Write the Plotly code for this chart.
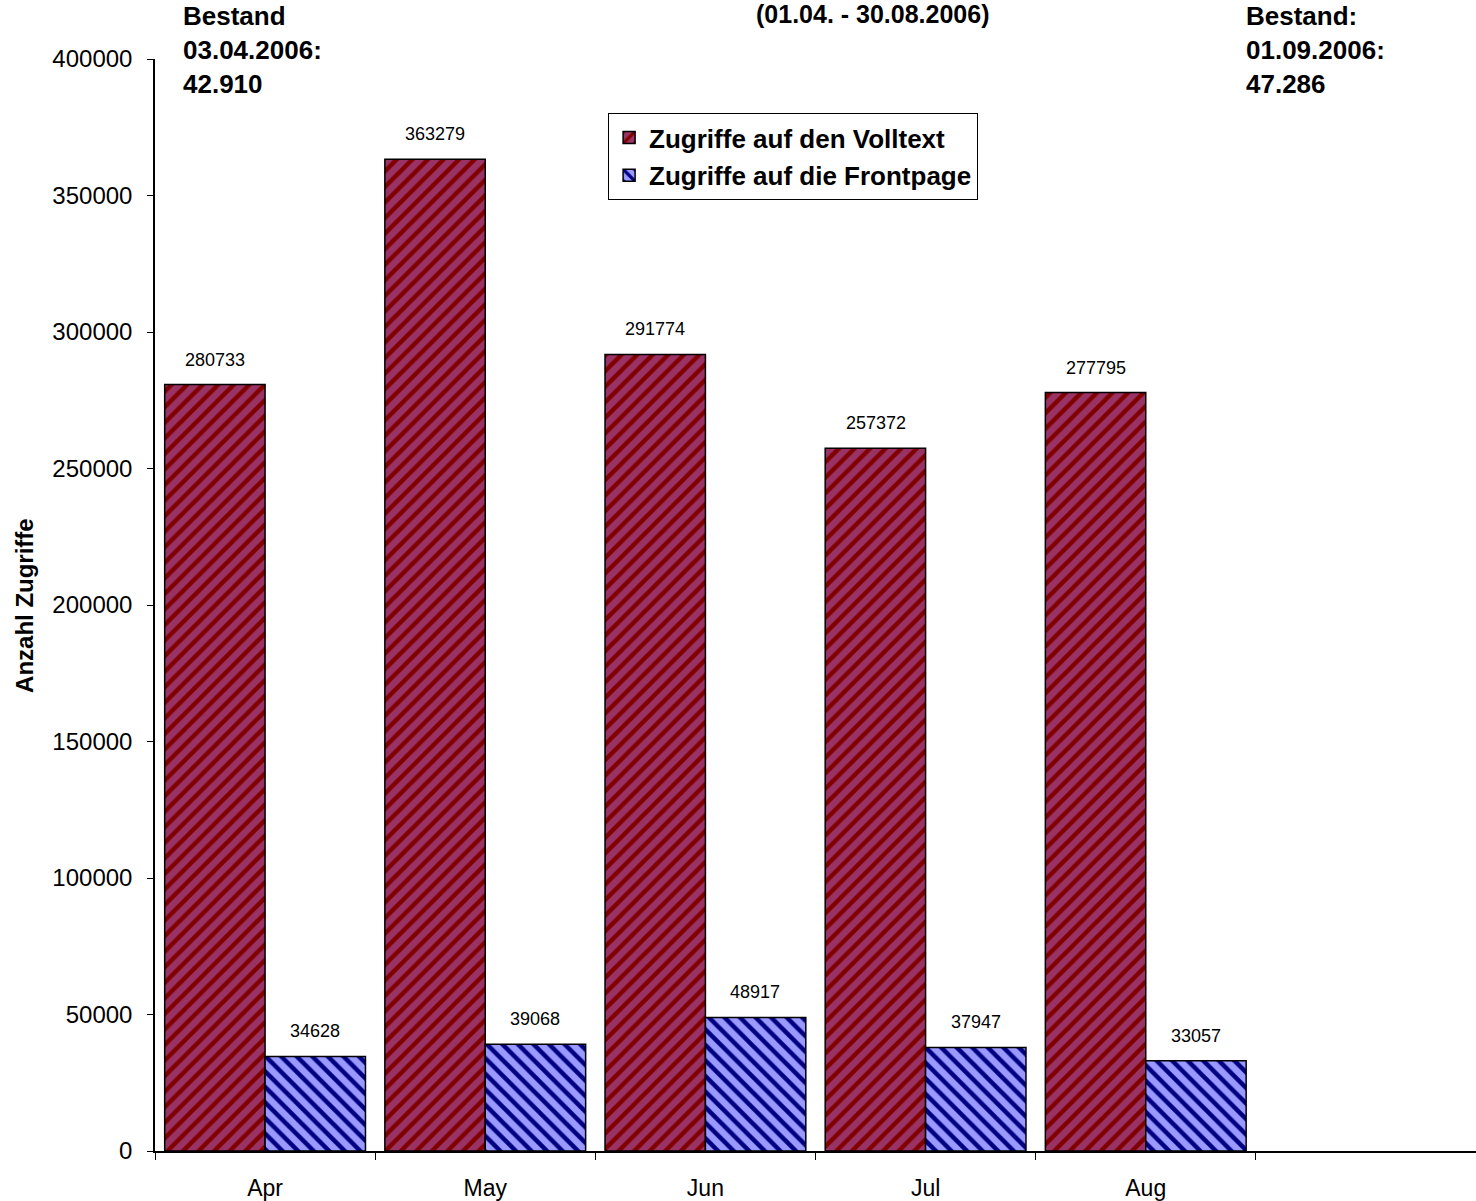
import plotly.graph_objects as go

months = ["Apr", "May", "Jun", "Jul", "Aug"]
extra_category = [" "]
volltext = [280733, 363279, 291774, 257372, 277795]
frontpage = [34628, 39068, 48917, 37947, 33057]
series_names = ["Zugriffe auf den Volltext", "Zugriffe auf die Frontpage"]
y_ticks = [0, 50000, 100000, 150000, 200000, 250000, 300000, 350000, 400000]

FONT = "Liberation Sans, Arial, sans-serif"

fig = go.Figure()
fig.add_trace(go.Bar(
    x=months, y=volltext, name=series_names[0], legendgroup="a",
    marker=dict(color="#993366", line=dict(color="black", width=1.5),
                pattern=dict(shape="/", bgcolor="#993366", fgcolor="#800000",
                             size=11, solidity=0.4, fillmode="replace")),
))
fig.add_trace(go.Bar(
    x=months, y=frontpage, name=series_names[1], legendgroup="b",
    marker=dict(color="#9999FF", line=dict(color="black", width=1.5),
                pattern=dict(shape="\\", bgcolor="#9999FF", fgcolor="#000080",
                             size=11, solidity=0.4, fillmode="replace")),
))

annotations = []
for m, v in zip(months, volltext):
    annotations.append(dict(x=m, y=v, xref="x", yref="y", text=str(v), showarrow=False,
                            xshift=-50, yshift=25, yanchor="middle",
                            font=dict(family=FONT, size=18, color="black")))
for m, v in zip(months, frontpage):
    annotations.append(dict(x=m, y=v, xref="x", yref="y", text=str(v), showarrow=False,
                            xshift=50, yshift=25, yanchor="middle",
                            font=dict(family=FONT, size=18, color="black")))

bold = dict(family=FONT, size=26, color="black", weight="bold")
annotations += [
    dict(x=0.0197, y=1.0082, xref="paper", yref="paper", xanchor="left", yanchor="middle",
         align="left", showarrow=False, text="Bestand<br>03.04.2006:<br>42.910", font=bold),
    dict(x=0.8244, y=1.0082, xref="paper", yref="paper", xanchor="left", yanchor="middle",
         align="left", showarrow=False, text="Bestand:<br>01.09.2006:<br>47.286", font=bold),
    dict(x=0.5435, y=1.0412, xref="paper", yref="paper", xanchor="center", yanchor="middle",
         showarrow=False, text="(01.04. - 30.08.2006)", font=dict(family=FONT, size=25, color="black", weight="bold")),
    dict(x=-0.0992, y=0.50, xref="paper", yref="paper", xanchor="center", yanchor="middle",
         showarrow=False, textangle=-90, text="Anzahl Zugriffe",
         font=dict(family=FONT, size=24, color="black", weight="bold")),
]

fig.update_layout(
    width=1476, height=1201,
    margin=dict(l=155, r=0, t=59, b=50),
    paper_bgcolor="white", plot_bgcolor="white",
    barmode="group", bargap=0.088, bargroupgap=0,
    showlegend=True,
    legend=dict(x=0.343, y=0.9505, xanchor="left", yanchor="top",
                bordercolor="black", borderwidth=1, bgcolor="white",
                font=dict(family=FONT, size=26, color="black", weight="bold"),
                traceorder="grouped", tracegroupgap=1),
    xaxis=dict(type="category", categoryorder="array", categoryarray=months + extra_category,
               range=[-0.5, 5.5], showline=True, linecolor="black", linewidth=1.5,
               ticks="outside", tickson="boundaries", ticklen=7, tickcolor="black",
               showgrid=False, zeroline=False, ticklabelstandoff=16,
               tickfont=dict(family=FONT, size=23, color="black")),
    yaxis=dict(range=[0, 400000], tickvals=y_ticks, tickformat="d", showline=True,
               linecolor="black", linewidth=1.5, ticks="outside", ticklen=6, tickcolor="black",
               showgrid=False, zeroline=False, ticklabelstandoff=10,
               tickfont=dict(family=FONT, size=24, color="black")),
    annotations=annotations,
)

fig.write_html("out.html", config={"displayModeBar": False},
               post_script="document.body.style.margin='0';document.body.style.overflow='hidden';")
